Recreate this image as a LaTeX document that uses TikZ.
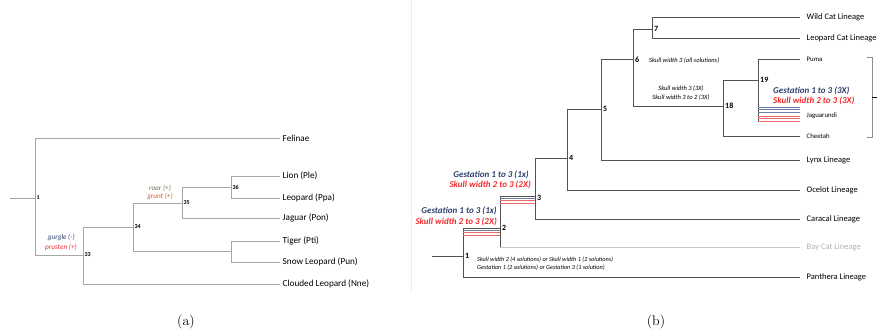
\documentclass[tikz,border=0pt]{standalone}
\usepackage{fontspec}
\newfontfamily\calib{Carlito}
\definecolor{navyann}{HTML}{2E3F6E}
\definecolor{redann}{HTML}{F02A2A}
\definecolor{roarc}{HTML}{6B7356}
\definecolor{gruntc}{HTML}{C0662A}
\definecolor{redline}{HTML}{EC6A6A}
\definecolor{blueline}{HTML}{6E7DA6}
\begin{document}
\begin{tikzpicture}[x=1pt,y=-1pt,
  ltree/.style={draw=black!35, line width=0.7pt},
  rtree/.style={draw=black!68, line width=0.7pt},
  leaf/.style={anchor=west, inner sep=2.5pt, font=\calib\fontsize{9.2}{11}\selectfont},
  rleaf/.style={anchor=west, inner sep=6.5pt, font=\calib\fontsize{8.5}{10}\selectfont},
  sleaf/.style={anchor=west, inner sep=6.5pt, font=\calib\fontsize{6.8}{8}\selectfont},
  lnum/.style={anchor=west, inner sep=1.5pt, font=\calib\bfseries\fontsize{6}{7}\selectfont},
  rnum/.style={anchor=west, inner sep=2pt, font=\calib\bfseries\fontsize{8}{9}\selectfont},
  ann/.style={inner sep=0pt, font=\calib\itshape\fontsize{7.2}{8}\selectfont},
  note/.style={inner sep=0pt, font=\calib\itshape\fontsize{6.5}{7}\selectfont},
  change/.style={inner sep=0pt, font=\calib\bfseries\itshape\fontsize{9}{10}\selectfont}]
\useasboundingbox (0,0) rectangle (883,335);

% (a)
\coordinate (a0) at (10,198);
\coordinate (a1) at (35,198);
\coordinate (a33) at (83,255);
\coordinate (a34) at (133,227);
\coordinate (a35) at (182,203);
\coordinate (a36) at (231,187);
\coordinate (ats) at (231,251);
\node[leaf] (felinae) at (280,138) {Felinae};
\node[leaf] (lion) at (280,176) {Lion (Ple)};
\node[leaf] (leopard) at (280,198) {Leopard (Ppa)};
\node[leaf] (jaguar) at (280,218) {Jaguar (Pon)};
\node[leaf] (tiger) at (280,241) {Tiger (Pti)};
\node[leaf] (snow) at (280,262) {Snow Leopard (Pun)};
\node[leaf] (clouded) at (280,284) {Clouded Leopard (Nne)};
\draw[ltree] (a0) -- (a1);
\draw[ltree] (a1) |- (felinae.west);
\draw[ltree] (a1) |- (a33);
\draw[ltree] (a33) |- (a34);
\draw[ltree] (a33) |- (clouded.west);
\draw[ltree] (a34) |- (a35);
\draw[ltree] (a34) |- (ats);
\draw[ltree] (a35) |- (a36);
\draw[ltree] (a35) |- (jaguar.west);
\draw[ltree] (a36) |- (lion.west);
\draw[ltree] (a36) |- (leopard.west);
\draw[ltree] (ats) |- (tiger.west);
\draw[ltree] (ats) |- (snow.west);
\node[lnum] (l1) at (a1) {1};
\node[lnum] (l33) at (a33) {33};
\node[lnum] (l34) at (a34) {34};
\node[lnum] (l35) at (a35) {35};
\node[lnum] (l36) at (a36) {36};
\node[ann, anchor=east, text=navyann] (gurgle) at (75,237) {gurgle (-)};
\node[ann, anchor=east, text=redann] (prusten) at (77,247) {prusten (+)};
\node[ann, text=roarc] (roar) at (160,188) {roar (+)};
\node[ann, text=gruntc] (grunt) at (160,196) {grunt (+)};

\draw[black!7] (411,0) -- (411,293);

% (b)
\coordinate (b0) at (432,256);
\coordinate (b1) at (463,256);
\coordinate (b2) at (500,228);
\coordinate (b3) at (535,196);
\coordinate (b4) at (567,158);
\coordinate (b5) at (601,109);
\coordinate (b6) at (633,59);
\coordinate (b7) at (652,29);
\coordinate (b18) at (723,106);
\coordinate (b19) at (758,80);
\node[rleaf] (wild) at (800,17) {Wild Cat Lineage};
\node[rleaf] (leocat) at (800,38) {Leopard Cat Lineage};
\node[sleaf] (puma) at (800,59) {Puma};
\node[sleaf] (jagua) at (800,116) {Jaguarundi};
\node[sleaf] (cheetah) at (800,136) {Cheetah};
\node[rleaf] (lynx) at (800,160) {Lynx Lineage};
\node[rleaf] (ocelot) at (800,190) {Ocelot Lineage};
\node[rleaf] (caracal) at (800,219) {Caracal Lineage};
\node[rleaf, text=black!30] (baycat) at (800,247) {Bay Cat Lineage};
\node[rleaf] (panthera) at (800,277) {Panthera Lineage};
\coordinate (jend) at (800,121);
\draw[rtree] (b0) -- (b1);
\draw[rtree] (b1) |- (b2);
\draw[rtree] (b1) |- (panthera.west);
\draw[rtree] (b2) |- (b3);
\draw[rtree] (b2) -- (b2 |- baycat.west);
\draw[black!22, line width=0.7pt] (b2 |- baycat.west) -- (baycat.west);
\draw[rtree] (b3) |- (b4);
\draw[rtree] (b3) |- (caracal.west);
\draw[rtree] (b4) |- (b5);
\draw[rtree] (b4) |- (ocelot.west);
\draw[rtree] (b5) |- (b6);
\draw[rtree] (b5) |- (lynx.west);
\draw[rtree] (b6) |- (b7);
\draw[rtree] (b6) |- (b18);
\draw[rtree] (b7) |- (wild.west);
\draw[rtree] (b7) |- (leocat.west);
\draw[rtree] (b18) |- (b19);
\draw[rtree] (b18) |- (cheetah.west);
\draw[rtree] (b19) |- (puma.west);
\draw[rtree] (b19) -- (b19 |- jend);
% stacked changes
\foreach \dy in {2} {
  \draw[blueline, line width=0.6pt] ([yshift=-\dy pt]b1 |- b2) -- ([yshift=-\dy pt]b2);
  \draw[blueline, line width=0.6pt] ([yshift=-\dy pt]b2 |- b3) -- ([yshift=-\dy pt]b3);
}
\foreach \dy in {4.5,7.5} {
  \draw[redline, line width=0.6pt] ([yshift=-\dy pt]b1 |- b2) -- ([yshift=-\dy pt]b2);
  \draw[redline, line width=0.6pt] ([yshift=-\dy pt]b2 |- b3) -- ([yshift=-\dy pt]b3);
}
\foreach \y in {107,109.5,112}
  \draw[blueline, line width=0.6pt] (758,\y) -- (800,\y);
\foreach \y in {116,118.5,121}
  \draw[redline, line width=0.6pt] (758,\y) -- (800,\y);
\node[rnum] (r1) at (b1) {1};
\node[rnum] (r2) at (b2) {2};
\node[rnum, yshift=-2pt] (r3) at (b3) {3};
\node[rnum] (r4) at (b4) {4};
\node[rnum] (r5) at (b5) {5};
\node[rnum, yshift=-1pt] (r6) at (b6) {6};
\node[rnum] (r7) at (b7) {7};
\node[rnum] (r18) at (b18) {18};
\node[rnum] (r19) at (b19) {19};
\node[change, anchor=east, text=navyann] (gest1) at (497,211) {Gestation 1 to 3 (1x)};
\node[change, anchor=east, text=redann] (skull1) at (497,222) {Skull width 2 to 3 (2X)};
\node[change, anchor=east, text=navyann] (gest2) at (529,175) {Gestation 1 to 3 (1x)};
\node[change, anchor=east, text=redann] (skull2) at (531,185) {Skull width 2 to 3 (2X)};
\node[change, anchor=west, text=navyann] (gest3) at (773,91) {Gestation 1 to 3 (3X)};
\node[change, anchor=west, text=redann] (skull3) at (773,101) {Skull width 2 to 3 (3X)};
\node[note, anchor=west, font=\calib\itshape\fontsize{6.2}{7}\selectfont] (sol1) at (477,260) {Skull width 2 (4 solutions) or Skull width 1 (2 solutions)};
\node[note, anchor=west, font=\calib\itshape\fontsize{6.2}{7}\selectfont] (sol2) at (477,268) {Gestation 1 (2 solutions) or Gestation 3 (1 solution)};
\node[note, anchor=west] (all) at (649,61) {Skull width 3 (all solutions)};
\node[note] (sk3) at (681,89) {Skull width 3 (3X)};
\node[note] (sk32) at (681,98) {Skull width 3 to 2 (3X)};
\draw[black!45, line width=0.7pt] (867,57) -- (872,57) -- (872,137) -- (867,137);
\draw[black, line width=0.7pt] (872,97) -- (877,97);

\node[font=\fontsize{14}{16}\selectfont] (capa) at (186,322) {(a)};
\node[font=\fontsize{14}{16}\selectfont] (capb) at (656,322) {(b)};
\end{tikzpicture}
\end{document}
